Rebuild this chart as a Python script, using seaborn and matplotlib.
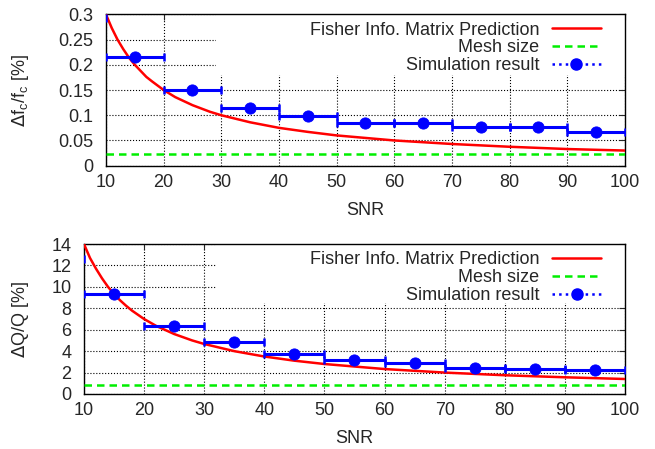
import matplotlib
matplotlib.use("Agg")
import matplotlib.pyplot as plt
from matplotlib.lines import Line2D
from matplotlib.patches import Rectangle
import seaborn as sns

# SNR bins (centres) and half-width of each bin
snr_bins = [5, 15, 25, 35, 45, 55, 65, 75, 85, 95]
bin_half = [5, 5, 5, 5, 5, 5, 5, 5, 5, 5]

# simulated spread
sim_fc = [0.293, 0.215, 0.151, 0.115, 0.098, 0.085, 0.085, 0.076, 0.076, 0.067]
sim_q = [12.6, 9.33, 6.37, 4.83, 3.72, 3.13, 2.93, 2.47, 2.31, 2.28]

# Fisher prediction sampled from the curves
fisher_snr = [10, 11, 12, 13, 14, 15, 16, 17, 18, 20, 22, 25, 28, 30, 35, 40,
              45, 50, 60, 70, 80, 90, 100]
fisher_fc = [0.300, 0.273, 0.250, 0.231, 0.214, 0.200, 0.188, 0.176, 0.167,
             0.150, 0.136, 0.120, 0.107, 0.100, 0.086, 0.075, 0.067, 0.060,
             0.050, 0.043, 0.0375, 0.033, 0.030]
fisher_q = [14.0, 12.7, 11.7, 10.8, 10.0, 9.33, 8.75, 8.24, 7.78, 7.0, 6.36,
            5.6, 5.0, 4.67, 4.0, 3.5, 3.11, 2.8, 2.33, 2.0, 1.75, 1.56, 1.4]

# mesh size (constant)
mesh_snr = [10, 100]
mesh_fc = [0.023, 0.023]
mesh_q = [0.82, 0.82]

sns.set_style("white")
plt.rcParams["font.family"] = ["Liberation Sans", "DejaVu Sans"]
plt.rcParams["font.size"] = 13

fig = plt.figure(figsize=(6.55, 4.49), dpi=100)
ax1 = fig.add_axes([0.1618, 0.631, 0.7924, 0.337])
ax2 = fig.add_axes([0.1282, 0.1225, 0.826, 0.334])

RED = "#ff0000"
GREEN = "#00ee00"
BLUE = "#0000ff"


def draw(ax, fisher, mesh, sim, ylim, yticks, ylabel, yfmt, key_box, ylab_x, leg_x):
    sns.lineplot(x=fisher_snr, y=fisher, ax=ax, color=RED, lw=1.8,
                 label="Fisher Info. Matrix Prediction", zorder=3)
    sns.lineplot(x=mesh_snr, y=mesh, ax=ax, color=GREEN, lw=1.8,
                 label="Mesh size", zorder=3)
    ax.lines[-1].set_dashes([3, 2])
    ax.errorbar(snr_bins, sim, xerr=bin_half, fmt="none", ecolor=BLUE,
                elinewidth=2.2, capsize=3, capthick=1.8, zorder=4)
    sns.scatterplot(x=snr_bins, y=sim, ax=ax, color=BLUE, s=65,
                    edgecolor=BLUE, zorder=5, legend=False)

    ax.set_xlim(10, 100)
    ax.set_ylim(*ylim)
    ax.set_xticks(range(10, 101, 10))
    ax.set_yticks(yticks)
    ax.set_yticklabels([yfmt(v) for v in yticks])
    ax.set_xlabel("SNR", fontsize=13)
    ax.set_ylabel(ylabel, fontsize=13)
    ax.xaxis.set_label_coords(0.5, -0.24)
    ax.yaxis.set_label_coords(ylab_x, 0.5)
    ax.grid(True, color="black", ls=":", lw=0.8)
    ax.tick_params(direction="in", top=True, right=True, length=4,
                   labelsize=13)
    ax.tick_params(axis="x", pad=6)
    ax.tick_params(axis="y", pad=9)
    for s in ax.spines.values():
        s.set_color("black")
        s.set_linewidth(1.0)

    # key area hides the grid, like the original
    ax.add_patch(Rectangle((key_box[0], key_box[1]), 1 - key_box[0],
                           1 - key_box[1], transform=ax.transAxes,
                           facecolor="white", edgecolor="none", zorder=1))

    handles = [
        Line2D([], [], color=RED, lw=1.8),
        Line2D([], [], color=GREEN, lw=1.8, dashes=[3, 2]),
        Line2D([], [], color=BLUE, lw=1.8, ls=":", marker="o", markersize=8),
    ]
    labels = ["Fisher Info. Matrix Prediction", "Mesh size",
              "Simulation result"]
    leg = ax.legend(handles, labels, loc="upper right",
                    bbox_to_anchor=(leg_x, 1.0), markerfirst=False,
                    frameon=False, fontsize=13,
                    handlelength=2.7, handletextpad=0.7, labelspacing=0.05,
                    borderpad=0.2, borderaxespad=0.2)
    leg.set_zorder(10)


def fmt_fc(v):
    return ("%.2f" % v).rstrip("0").rstrip(".")


draw(ax1, fisher_fc, mesh_fc, sim_fc, (0, 0.3),
     [0, 0.05, 0.1, 0.15, 0.2, 0.25, 0.3],
     r"$\Delta$f$_\mathregular{c}$/f$_\mathregular{c}$ [%]", fmt_fc,
     (0.212, 0.60), -0.145, 0.967)
draw(ax2, fisher_q, mesh_q, sim_q, (0, 14), list(range(0, 15, 2)),
     r"$\Delta$Q/Q [%]", lambda v: str(v),
     (0.244, 0.607), -0.098, 0.969)

fig.savefig("out.png", dpi=100)
